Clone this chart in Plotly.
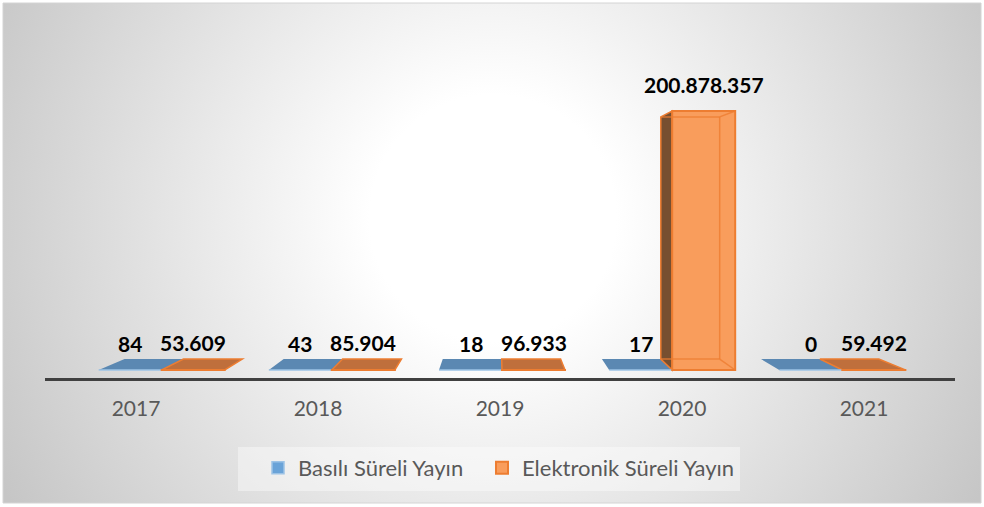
import base64
import plotly.graph_objects as go

# ---------------- data ----------------
years = ["2017", "2018", "2019", "2020", "2021"]
basili = [84, 43, 18, 17, 0]
elektronik = [53609, 85904, 96933, 200878357, 59492]
series_names = ["Basılı Süreli Yayın", "Elektronik Süreli Yayın"]

# ---------------- layout geometry ----------------
W, H = 984, 507
L, R, T, B = 45, 29, 80, 129
PW, PH = W - L - R, H - T - B
UNIT_PX = PW / len(years)            # px per category
ZERO_PX = 370                         # pixel row of value 0
VAL_PER_PX = max(elektronik) / 259.0  # vertical scale
Y_MIN = -(T + PH - ZERO_PX) * VAL_PER_PX
Y_MAX = (ZERO_PX - T) * VAL_PER_PX

# perspective (pseudo-3D)
K = 0.065
X_VP = (497 - L) / UNIT_PX - 0.5
Y_VP = (ZERO_PX - 202) * VAL_PER_PX
FRONT_VP = 2.17
BAR_W = 63 / UNIT_PX

xs = list(range(len(years)))
shift = [0.065 * (FRONT_VP - i) for i in xs]


def fmt(v):
    return f"{v:,}".replace(",", ".")


def back(x, y):
    return x + K * (X_VP - x), y + K * (Y_VP - y)


def poly(points):
    return "M " + " L ".join(f"{x},{y}" for x, y in points) + " Z"


shapes = []
annotations = []


def box(x0, x1, v, top_col, side_col, edge_col, edge_w):
    hpx = v / VAL_PER_PX
    side_x = None
    if x0 > X_VP:
        side_x = x0
    elif x1 < X_VP:
        side_x = x1
    if side_x is not None and hpx > 2:
        shapes.append(dict(type="path", xref="x", yref="y", layer="below",
                           path=poly([(side_x, 0), (side_x, v), back(side_x, v), back(side_x, 0)]),
                           fillcolor=side_col, line=dict(color=edge_col, width=edge_w)))
    if v < Y_VP:
        shapes.append(dict(type="path", xref="x", yref="y", layer="below",
                           path=poly([(x0, v), (x1, v), back(x1, v), back(x0, v)]),
                           fillcolor=top_col, line=dict(color=edge_col, width=edge_w)))
    if hpx > 20:
        bl0, bl1 = back(x0, 0), back(x1, 0)
        bt0, bt1 = back(x0, v), back(x1, v)
        segs = [(bt0, bt1), (bt1, bl1), (bl0, bl1), ((x1, v), bt1), ((x1, 0), bl1)]
        for p, q in segs:
            shapes.append(dict(type="line", xref="x", yref="y", layer="above",
                               x0=p[0], y0=p[1], x1=q[0], y1=q[1],
                               line=dict(color="rgba(237,125,49,0.8)", width=1.5)))


for i in xs:
    bx0 = i + shift[i] - BAR_W
    bx1 = i + shift[i]
    ox0 = bx1
    ox1 = bx1 + BAR_W
    box(bx0, bx1, basili[i], "#5B88B2", "#3F6A90", "rgba(0,0,0,0)", 0)
    box(ox0, ox1, elektronik[i], "#BF6F3C", "#774F30", "#ED7D31", 1.5)
    annotations.append(dict(x=(bx0 + bx1) / 2, y=basili[i], xref="x", yref="y",
                            text=fmt(basili[i]), showarrow=False, yanchor="middle",
                            yshift=27, font=dict(family="Lato", size=21, color="#000000", weight=700)))
    annotations.append(dict(x=(ox0 + ox1) / 2, y=elektronik[i], xref="x", yref="y",
                            text=fmt(elektronik[i]), showarrow=False, yanchor="middle",
                            yshift=27, font=dict(family="Lato", size=21, color="#000000", weight=700)))


def px_to_paper_x(px):
    return (px - L) / PW


def px_to_paper_y(py):
    return (T + PH - py) / PH


shapes.append(dict(type="rect", xref="paper", yref="paper", layer="below",
                   x0=px_to_paper_x(238), x1=px_to_paper_x(740),
                   y0=px_to_paper_y(491), y1=px_to_paper_y(447),
                   fillcolor="rgba(255,255,255,0.4)", line=dict(width=0)))
shapes.append(dict(type="rect", xref="paper", yref="paper", layer="below",
                   x0=px_to_paper_x(3), x1=px_to_paper_x(981),
                   y0=px_to_paper_y(503), y1=px_to_paper_y(3),
                   fillcolor="rgba(0,0,0,0)", line=dict(color="#D4D4D4", width=1)))

svg = ('<svg xmlns="http://www.w3.org/2000/svg" width="978" height="500" viewBox="0 0 978 500">'
       '<defs><radialGradient id="g" gradientUnits="userSpaceOnUse" cx="490" cy="215" r="560">'
       '<stop offset="0" stop-color="#ffffff"/><stop offset="0.22" stop-color="#ffffff"/>'
       '<stop offset="1" stop-color="#c6c6c6"/></radialGradient></defs>'
       '<rect width="978" height="500" fill="url(#g)"/></svg>')
bg_uri = "data:image/svg+xml;base64," + base64.b64encode(svg.encode()).decode()

fig = go.Figure()
fig.add_trace(go.Bar(
    x=xs, y=basili, name=series_names[0], legend="legend",
    offset=[s - BAR_W for s in shift], width=BAR_W,
    marker=dict(color="#6AA3D8", line=dict(color="#9DC3E6", width=1.5)),
    hoverinfo="skip",
))
fig.add_trace(go.Bar(
    x=xs, y=elektronik, name=series_names[1], legend="legend2",
    offset=shift, width=BAR_W,
    marker=dict(color="#F99D5C", line=dict(color="#ED7D31", width=2)),
    hoverinfo="skip",
))

legend_common = dict(orientation="h", xanchor="left",
                     y=px_to_paper_y(468), yanchor="middle",
                     font=dict(family="Lato", size=22, color="#595959"),
                     bgcolor="rgba(0,0,0,0)", itemclick=False, itemdoubleclick=False)

fig.update_layout(
    width=W, height=H,
    margin=dict(l=L, r=R, t=T, b=B, pad=0),
    paper_bgcolor="#FFFFFF",
    plot_bgcolor="rgba(0,0,0,0)",
    barmode="overlay",
    font=dict(family="Lato", color="#595959"),
    images=[dict(source=bg_uri, xref="paper", yref="paper",
                 x=px_to_paper_x(3), y=px_to_paper_y(3),
                 sizex=978 / PW, sizey=500 / PH,
                 xanchor="left", yanchor="top", sizing="stretch", layer="below")],
    xaxis=dict(
        range=[-0.5, len(years) - 0.5],
        tickvals=xs, ticktext=years,
        tickfont=dict(family="Lato", size=21, color="#595959"),
        ticks="outside", ticklen=10, tickcolor="rgba(0,0,0,0)",
        showline=True, linecolor="#404040", linewidth=3,
        showgrid=False, zeroline=False, fixedrange=True,
    ),
    yaxis=dict(range=[Y_MIN, Y_MAX], visible=False, showgrid=False,
               zeroline=False, fixedrange=True),
    legend=dict(x=px_to_paper_x(258), **legend_common),
    legend2=dict(x=px_to_paper_x(482), **legend_common),
    shapes=shapes,
    annotations=annotations,
    showlegend=True,
)

fig.write_html("out.html", config={"displayModeBar": False},
               post_script="document.body.style.margin='0px';document.body.style.overflow='hidden';")
